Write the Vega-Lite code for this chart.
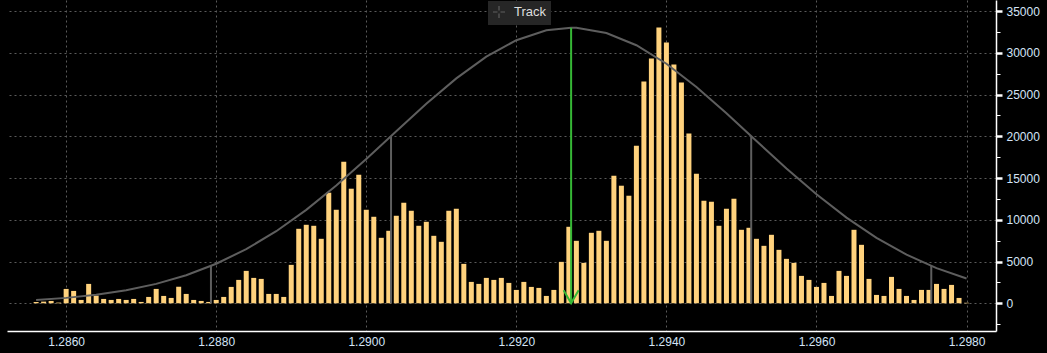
{
  "$schema": "https://vega.github.io/schema/vega-lite/v6.json",
  "width": 989,
  "height": 331,
  "autosize": {"type": "none"},
  "padding": {"left": 7, "top": 0, "right": 51, "bottom": 22},
  "background": "#000000",
  "config": {"view": {"stroke": null}, "font": "Liberation Sans"},
  "resolve": {"axis": {"y": "independent"}},
  "datasets": {
    "bars": [
      {"price": 1.2856, "count": 150}, {"price": 1.2857, "count": 200}, {"price": 1.2858, "count": 280}, {"price": 1.2859, "count": 80},
      {"price": 1.2860, "count": 1720}, {"price": 1.2861, "count": 1480}, {"price": 1.2862, "count": 400}, {"price": 1.2863, "count": 2320},
      {"price": 1.2864, "count": 920}, {"price": 1.2865, "count": 520}, {"price": 1.2866, "count": 400}, {"price": 1.2867, "count": 520},
      {"price": 1.2868, "count": 400}, {"price": 1.2869, "count": 520}, {"price": 1.2870, "count": 160}, {"price": 1.2871, "count": 760},
      {"price": 1.2872, "count": 1720}, {"price": 1.2873, "count": 880}, {"price": 1.2874, "count": 640}, {"price": 1.2875, "count": 1980},
      {"price": 1.2876, "count": 1120}, {"price": 1.2877, "count": 400}, {"price": 1.2878, "count": 280}, {"price": 1.2879, "count": 160},
      {"price": 1.2880, "count": 400}, {"price": 1.2881, "count": 760}, {"price": 1.2882, "count": 1960}, {"price": 1.2883, "count": 2800},
      {"price": 1.2884, "count": 3880}, {"price": 1.2885, "count": 3040}, {"price": 1.2886, "count": 2920}, {"price": 1.2887, "count": 1120},
      {"price": 1.2888, "count": 1120}, {"price": 1.2889, "count": 760}, {"price": 1.2890, "count": 4600}, {"price": 1.2891, "count": 8920},
      {"price": 1.2892, "count": 9400}, {"price": 1.2893, "count": 9280}, {"price": 1.2894, "count": 7720}, {"price": 1.2895, "count": 13240},
      {"price": 1.2896, "count": 11200}, {"price": 1.2897, "count": 16960}, {"price": 1.2898, "count": 13720}, {"price": 1.2899, "count": 15400},
      {"price": 1.2900, "count": 11200}, {"price": 1.2901, "count": 10360}, {"price": 1.2902, "count": 7840}, {"price": 1.2903, "count": 8680},
      {"price": 1.2904, "count": 10480}, {"price": 1.2905, "count": 12040}, {"price": 1.2906, "count": 11080}, {"price": 1.2907, "count": 9280},
      {"price": 1.2908, "count": 9760}, {"price": 1.2909, "count": 8080}, {"price": 1.2910, "count": 7360}, {"price": 1.2911, "count": 11080},
      {"price": 1.2912, "count": 11320}, {"price": 1.2913, "count": 4720}, {"price": 1.2914, "count": 2560}, {"price": 1.2915, "count": 2320},
      {"price": 1.2916, "count": 3040}, {"price": 1.2917, "count": 2800}, {"price": 1.2918, "count": 3040}, {"price": 1.2919, "count": 2440},
      {"price": 1.2920, "count": 1600}, {"price": 1.2921, "count": 2560}, {"price": 1.2922, "count": 1960}, {"price": 1.2923, "count": 1840},
      {"price": 1.2924, "count": 880}, {"price": 1.2925, "count": 1600}, {"price": 1.2926, "count": 4960}, {"price": 1.2927, "count": 9160},
      {"price": 1.2928, "count": 7480}, {"price": 1.2929, "count": 4840}, {"price": 1.2930, "count": 8440}, {"price": 1.2931, "count": 8680},
      {"price": 1.2932, "count": 7480}, {"price": 1.2933, "count": 15280}, {"price": 1.2934, "count": 14080}, {"price": 1.2935, "count": 12880},
      {"price": 1.2936, "count": 18880}, {"price": 1.2937, "count": 26560}, {"price": 1.2938, "count": 29320}, {"price": 1.2939, "count": 33040},
      {"price": 1.2940, "count": 31240}, {"price": 1.2941, "count": 28600}, {"price": 1.2942, "count": 26440}, {"price": 1.2943, "count": 20320},
      {"price": 1.2944, "count": 15520}, {"price": 1.2945, "count": 12280}, {"price": 1.2946, "count": 12160}, {"price": 1.2947, "count": 9280},
      {"price": 1.2948, "count": 11320}, {"price": 1.2949, "count": 12520}, {"price": 1.2950, "count": 8800}, {"price": 1.2951, "count": 9040},
      {"price": 1.2952, "count": 7720}, {"price": 1.2953, "count": 6880}, {"price": 1.2954, "count": 8200}, {"price": 1.2955, "count": 6400},
      {"price": 1.2956, "count": 5320}, {"price": 1.2957, "count": 4840}, {"price": 1.2958, "count": 3280}, {"price": 1.2959, "count": 2800},
      {"price": 1.2960, "count": 1960}, {"price": 1.2961, "count": 2440}, {"price": 1.2962, "count": 880}, {"price": 1.2963, "count": 3880},
      {"price": 1.2964, "count": 3280}, {"price": 1.2965, "count": 8800}, {"price": 1.2966, "count": 7000}, {"price": 1.2967, "count": 2920},
      {"price": 1.2968, "count": 1000}, {"price": 1.2969, "count": 880}, {"price": 1.2970, "count": 3160}, {"price": 1.2971, "count": 1720},
      {"price": 1.2972, "count": 880}, {"price": 1.2973, "count": 400}, {"price": 1.2974, "count": 1600}, {"price": 1.2975, "count": 1600},
      {"price": 1.2976, "count": 2320}, {"price": 1.2977, "count": 1720}, {"price": 1.2978, "count": 2200}, {"price": 1.2979, "count": 640},
      {"price": 1.2980, "count": 60}
    ],
    "curve": [
      {"price": 1.2856, "value": 400}, {"price": 1.2860, "value": 647}, {"price": 1.2864, "value": 1018}, {"price": 1.2868, "value": 1558},
      {"price": 1.2872, "value": 2321}, {"price": 1.2876, "value": 3363}, {"price": 1.2880, "value": 4733}, {"price": 1.2884, "value": 6482},
      {"price": 1.2888, "value": 8633}, {"price": 1.2892, "value": 11187}, {"price": 1.2896, "value": 14101}, {"price": 1.2900, "value": 17279},
      {"price": 1.2904, "value": 20599}, {"price": 1.2908, "value": 23882}, {"price": 1.2912, "value": 26931}, {"price": 1.2916, "value": 29535},
      {"price": 1.2920, "value": 31508}, {"price": 1.2924, "value": 32690}, {"price": 1.29273, "value": 33000}, {"price": 1.2928, "value": 32986},
      {"price": 1.2932, "value": 32373}, {"price": 1.2936, "value": 30901}, {"price": 1.2940, "value": 28690}, {"price": 1.2944, "value": 25905},
      {"price": 1.2948, "value": 22750}, {"price": 1.2952, "value": 19430}, {"price": 1.2956, "value": 16140}, {"price": 1.2960, "value": 13045},
      {"price": 1.2964, "value": 10253}, {"price": 1.2968, "value": 7834}, {"price": 1.2972, "value": 5825}, {"price": 1.2976, "value": 4214},
      {"price": 1.2980, "value": 2960}
    ],
    "sigma": [
      {"price": 1.28793, "top": 4466}, {"price": 1.29033, "top": 20016},
      {"price": 1.29513, "top": 20016}, {"price": 1.29753, "top": 4466}
    ],
    "mean": [{"price": 1.29273, "top": 33000}]
  },
  "layer": [
    {
      "data": {"name": "bars"},
      "mark": {"type": "bar", "width": 5, "color": "#ffd27d"},
      "encoding": {
        "x": {
          "field": "price", "type": "quantitative",
          "scale": {"domain": [1.2852784, 1.298326], "nice": false, "zero": false},
          "axis": {
            "values": [1.286, 1.288, 1.29, 1.292, 1.294, 1.296, 1.298],
            "format": ".4f", "title": null, "ticks": false,
            "domainColor": "#ffffff", "domainWidth": 1.5,
            "labelColor": "#d4e4f7", "labelFontSize": 12, "labelPadding": 5, "labelFont": "Liberation Sans",
            "grid": true, "gridColor": "#5a5a5a", "gridDash": [2, 3], "gridWidth": 1
          }
        },
        "y": {
          "field": "count", "type": "quantitative",
          "scale": {"domain": [-3320, 36320], "nice": false},
          "axis": {
            "orient": "right", "title": null,
            "values": [0, 5000, 10000, 15000, 20000, 25000, 30000, 35000],
            "format": "d",
            "domainColor": "#ffffff", "domainWidth": 1.5,
            "tickColor": "#ffffff", "tickSize": 6, "tickWidth": 2.5,
            "labelColor": "#d4e4f7", "labelFontSize": 12, "labelPadding": 4, "labelFont": "Liberation Sans",
            "labelOverlap": false,
            "grid": true, "gridColor": "#5a5a5a", "gridDash": [2, 3], "gridWidth": 1
          }
        }
      }
    },
    {
      "data": {"name": "curve"},
      "mark": {"type": "line", "strokeWidth": 2},
      "encoding": {
        "x": {"field": "price", "type": "quantitative"},
        "y": {"field": "value", "type": "quantitative", "axis": null},
        "color": {
          "datum": "Track",
          "type": "nominal",
          "scale": {"domain": ["Track"], "range": ["#5e5e5e"]},
          "legend": {
            "orient": "none", "legendX": 481, "legendY": 1, "title": null,
            "symbolType": "M-1,0H-0.25M0.25,0H1M0,-1V-0.25M0,0.25V1",
            "symbolSize": 144, "symbolStrokeWidth": 1.2, "symbolStrokeColor": "#9a9a9a",
            "labelColor": "#dedede", "labelFontSize": 13, "labelFont": "Liberation Sans",
            "fillColor": "#262626", "padding": 4, "labelOffset": 8
          }
        }
      }
    },
    {
      "data": {"name": "sigma"},
      "mark": {"type": "rule", "color": "#5e5e5e", "strokeWidth": 2},
      "encoding": {
        "x": {"field": "price", "type": "quantitative"},
        "y": {"field": "top", "type": "quantitative", "axis": null},
        "y2": {"datum": 0}
      }
    },
    {
      "data": {"name": "mean"},
      "mark": {"type": "rule", "color": "#36b836", "strokeWidth": 2},
      "encoding": {
        "x": {"field": "price", "type": "quantitative"},
        "y": {"field": "top", "type": "quantitative", "axis": null},
        "y2": {"datum": 0}
      }
    },
    {
      "data": {"name": "mean"},
      "mark": {"type": "point", "shape": "M-1,-1.75L0,0L1,-1.75", "size": 225, "filled": false, "stroke": "#36b836", "strokeWidth": 2, "opacity": 1},
      "encoding": {
        "x": {"field": "price", "type": "quantitative"},
        "y": {
          "datum": 0, "type": "quantitative",
          "axis": {
            "orient": "right", "title": null,
            "values": [-2500, 2500, 7500, 12500, 17500, 22500, 27500, 32500],
            "labels": false, "domain": false, "grid": false,
            "tickColor": "#ffffff", "tickSize": 4, "tickWidth": 1
          }
        }
      }
    }
  ]
}
